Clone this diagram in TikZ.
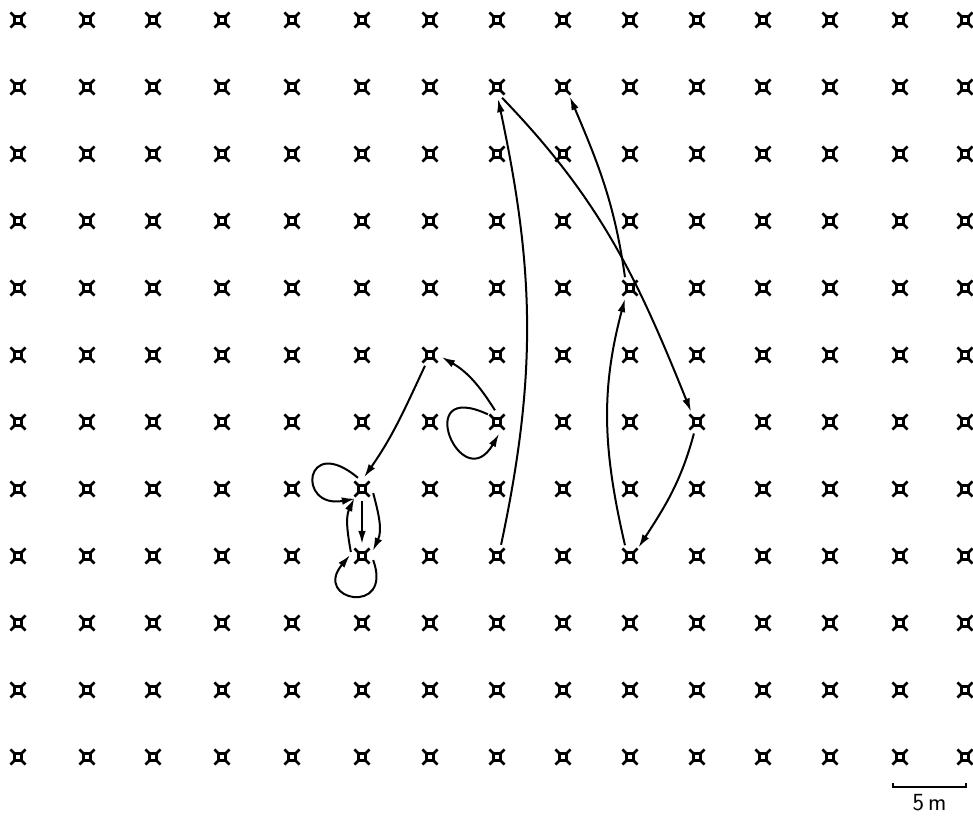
\documentclass[tikz,border=0pt]{standalone}
\usepackage{tikz}
\usetikzlibrary{arrows.meta, positioning, calc}

\begin{document}
\begin{tikzpicture}[
  x=0.3mm, y=0.3mm,
  tree/.style={circle, inner sep=0pt, minimum size=7mm,
    path picture={
      \draw[line width=0.8mm] ([shift={(-1mm,-1mm)}]path picture bounding box.center) rectangle ++(2mm,2mm);
      \foreach \a in {45,135,225,315}
        \draw[line width=0.8mm] ([shift={(\a:1.35mm)}]path picture bounding box.center) -- ++(\a:1.85mm);
    }},
  move/.style={-{Latex[length=4mm, width=2.3mm]}, line width=0.6mm},
  scalebar/.style={line width=0.5mm}
]
  \useasboundingbox (0,0) rectangle (973,816);
  \foreach \x [count=\c] in {18,87,153,222,292,362,430,497,563,630,697,763,830,900,965}
    \foreach \r in {1,...,12}
      \node[tree] (t-\c-\r) at (\x,{796-67*(\r-1)}) {};

  \draw[move] (t-8-9.70) to[out=78, in=-78] (t-8-2.-85);
  \draw[move] (t-8-2.-65) to[out=-46, in=112] (t-11-7.120);
  \draw[move] (t-10-9.115) to[out=103, in=-105] (t-10-5.-115);
  \draw[move] (t-10-5.115) to[out=98, in=-67] (t-9-2.-55);
  \draw[move] (t-11-7.-105) to[out=-105, in=57] (t-10-9.45);
  \draw[move] (t-8-7.140) .. controls +(155:85) and +(240:75) .. (t-8-7.-80);
  \draw[move] (t-8-7.100) to[out=122, in=-30] (t-7-6.-10);
  \draw[move] (t-7-6.-115) to[out=-115, in=55] (t-6-8.80);
  \draw[move] (t-6-8.110) .. controls +(140:70) and +(190:60) .. (t-6-8.-125);
  \draw[move] (t-6-8) -- (t-6-9);
  \draw[move] (t-6-8.-20) to[out=-75, in=65] (t-6-9.25);
  \draw[move] (t-6-9.160) to[out=100, in=-115] (t-6-8.-130);
  \draw[move] (t-6-9.-20) .. controls +(-70:60) and +(230:60) .. (t-6-9.175);

  \coordinate (bar-l) at (893,29);
  \coordinate (bar-r) at (966,29);
  \draw[scalebar] ($(bar-l)+(0,4)$) -- (bar-l) -- (bar-r) -- ++(0,4);
  \node[font=\fontsize{21}{25}\selectfont\sffamily, inner sep=0pt] (scale) at ($(bar-l)!0.5!(bar-r)+(0,-16)$) {5\,m};
\end{tikzpicture}
\end{document}
